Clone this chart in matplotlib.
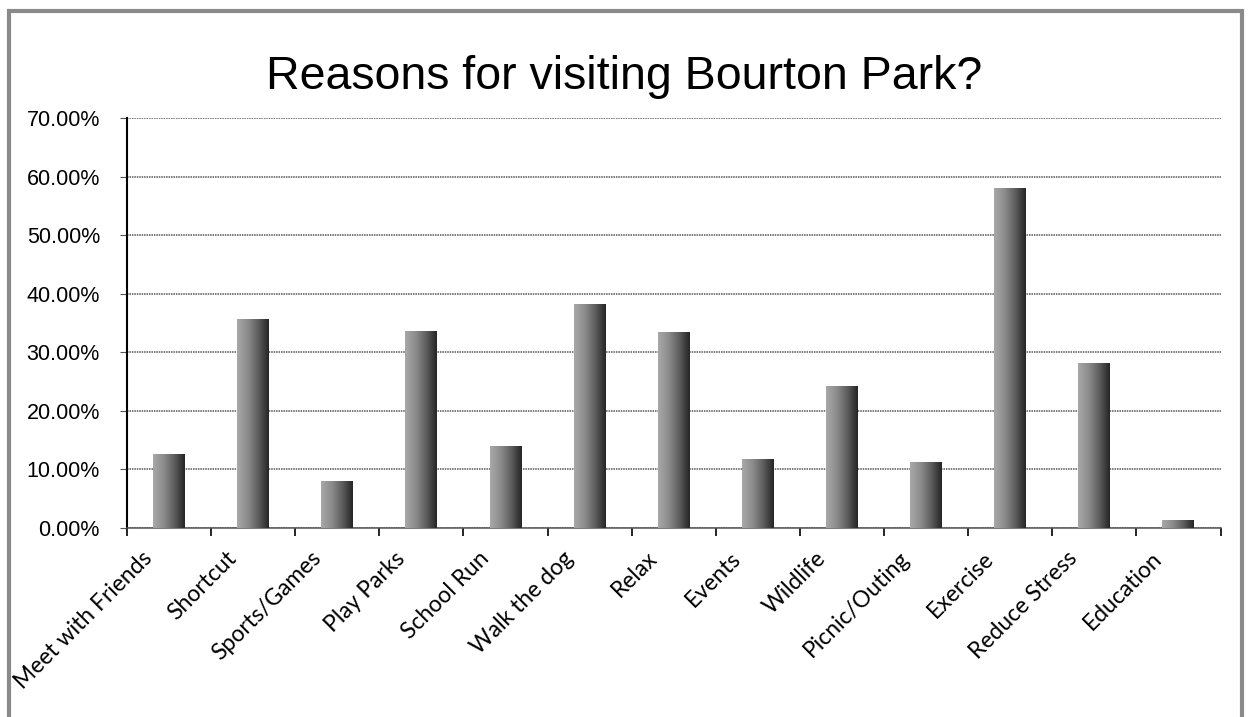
import numpy as np
import matplotlib.pyplot as plt
from matplotlib.patches import Rectangle
from matplotlib.colors import LinearSegmentedColormap

categories = ['Meet with Friends', 'Shortcut', 'Sports/Games', 'Play Parks',
              'School Run', 'Walk the dog', 'Relax', 'Events', 'Wildlife',
              'Picnic/Outing', 'Exercise', 'Reduce Stress', 'Education']
values = [12.5, 35.6, 7.9, 33.6, 13.9, 38.2, 33.4, 11.7, 24.2, 11.1, 58.0, 28.1, 1.2]
y_ticks = [0, 10, 20, 30, 40, 50, 60, 70]

fig = plt.figure(figsize=(12.49, 7.17), dpi=100)
ax = fig.add_axes([0.1017, 0.2636, 0.8755, 0.5718])

x = np.arange(len(categories))
bars = ax.bar(x, values, width=0.38, color='none', zorder=3)

# grey gradient fill, lighter on the left, darker on the right
cmap = LinearSegmentedColormap.from_list('g', ['#a8a8a8', '#8c8c8c', '#5e5e5e', '#262626'])
grad = np.linspace(0, 1, 64).reshape(1, -1)
for b in bars:
    x0, y0 = b.get_x(), b.get_y()
    w, h = b.get_width(), b.get_height()
    ax.imshow(grad, cmap=cmap, aspect='auto', extent=(x0, x0 + w, y0, y0 + h),
              zorder=3, interpolation='bilinear')

ax.set_xlim(-0.5, len(categories) - 0.5)
ax.set_ylim(0, 70)

ax.set_yticks(y_ticks)
ax.set_yticklabels([f'{v:.2f}%' for v in y_ticks], fontsize=15.5, family='Liberation Sans')
ax.yaxis.grid(True, color='#555555', linewidth=1.1, linestyle=(0, (1, 0.6)), zorder=1)
ax.tick_params(axis='y', length=5, color='#555555', pad=14.5)

# category labels, rotated like Excel (end of text sits left of the tick)
ax.set_xticks(x)
ax.set_xticklabels([])
ax.tick_params(axis='x', which='major', length=0)
for xi, cat in zip(x, categories):
    ax.annotate(cat, xy=(xi, 0), xycoords=('data', 'axes fraction'),
                xytext=(-20, -27), textcoords='offset pixels',
                rotation=45, ha='right', va='center', rotation_mode='anchor',
                fontsize=16.5, family='Lato', annotation_clip=False)
ax.set_xticks(np.arange(len(categories) + 1) - 0.5, minor=True)
ax.tick_params(axis='x', which='minor', length=6, width=1.2, color='black')

ax.spines['top'].set_visible(False)
ax.spines['right'].set_visible(False)
ax.spines['left'].set_color('black')
ax.spines['left'].set_linewidth(1.5)
ax.spines['bottom'].set_color('#555555')
ax.spines['bottom'].set_linewidth(1.1)

fig.text(0.5, 0.893, 'Reasons for visiting Bourton Park?', ha='center', va='center',
         fontsize=33.5, family='Liberation Sans')

# outer chart frame
fig.patches.append(Rectangle((0.0072, -0.05), 0.9872, 1.034, transform=fig.transFigure,
                             fill=False, edgecolor='#8a8a8a', linewidth=3))

fig.savefig('out.png', dpi=100)
